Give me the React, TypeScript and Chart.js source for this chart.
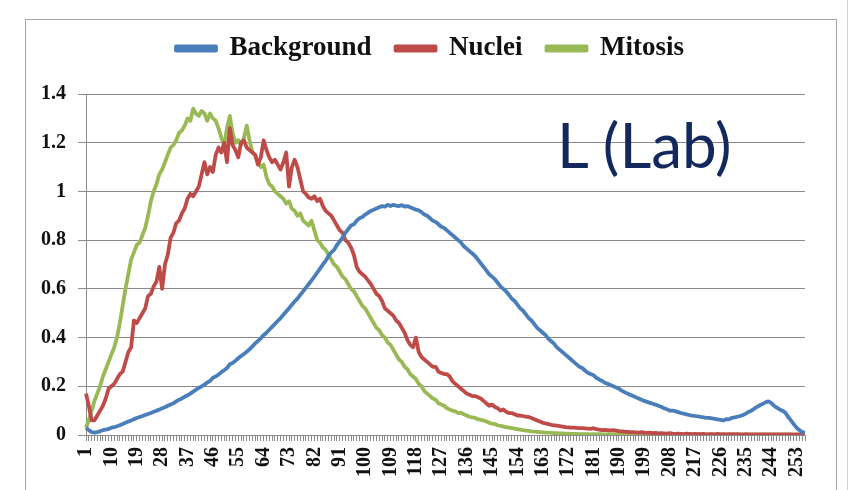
import React, { useEffect, useRef } from 'react';
import { Chart, registerables } from 'chart.js';

Chart.register(...registerables);

// x categories: intensity bins 1..256
const categories: string[] = Array.from({ length: 256 }, (_, i) => String(i + 1));
// labelled ticks (every 9th bin)
const xTickLabels = ['1', '10', '19', '28', '37', '46', '55', '64', '73', '82', '91', '100', '109', '118', '127', '136', '145', '154', '163', '172', '181', '190', '199', '208', '217', '226', '235', '244', '253'];
const yTicks = [0, 0.2, 0.4, 0.6, 0.8, 1, 1.2, 1.4];

const seriesNames = ['Background', 'Nuclei', 'Mitosis'];
const seriesColors = ['#4A7EBB', '#BE4B48', '#98B954'];

const background = [
  0.03, 0.02, 0.012, 0.01, 0.012, 0.015, 0.02, 0.022, 0.025, 0.03, 0.032, 0.036, 0.04, 0.045, 0.05, 0.055,
  0.06, 0.065, 0.07, 0.074, 0.078, 0.082, 0.086, 0.09, 0.095, 0.1, 0.104, 0.11, 0.114, 0.12, 0.125, 0.13,
  0.138, 0.145, 0.15, 0.157, 0.163, 0.17, 0.178, 0.186, 0.193, 0.2, 0.207, 0.215, 0.222, 0.235, 0.24, 0.248,
  0.258, 0.266, 0.275, 0.29, 0.296, 0.305, 0.315, 0.324, 0.333, 0.342, 0.352, 0.364, 0.376, 0.386, 0.397, 0.41,
  0.42, 0.432, 0.444, 0.456, 0.468, 0.48, 0.494, 0.507, 0.52, 0.535, 0.548, 0.56, 0.575, 0.59, 0.605, 0.62,
  0.635, 0.65, 0.667, 0.683, 0.7, 0.715, 0.735, 0.75, 0.76, 0.78, 0.795, 0.81, 0.83, 0.845, 0.86, 0.865,
  0.88, 0.89, 0.895, 0.905, 0.912, 0.92, 0.925, 0.93, 0.935, 0.94, 0.938, 0.945, 0.94, 0.945, 0.942, 0.94,
  0.944, 0.938, 0.94, 0.935, 0.93, 0.925, 0.922, 0.915, 0.905, 0.9, 0.89, 0.88, 0.875, 0.865, 0.855, 0.85,
  0.84, 0.83, 0.82, 0.81, 0.8, 0.79, 0.775, 0.765, 0.755, 0.745, 0.735, 0.72, 0.705, 0.69, 0.675, 0.66,
  0.65, 0.64, 0.625, 0.61, 0.6, 0.59, 0.575, 0.56, 0.55, 0.535, 0.52, 0.51, 0.495, 0.48, 0.47, 0.455,
  0.44, 0.43, 0.42, 0.41, 0.395, 0.385, 0.375, 0.36, 0.35, 0.34, 0.33, 0.32, 0.31, 0.3, 0.29, 0.28,
  0.275, 0.265, 0.255, 0.25, 0.245, 0.235, 0.228, 0.222, 0.215, 0.21, 0.205, 0.2, 0.195, 0.19, 0.182, 0.176,
  0.17, 0.165, 0.16, 0.155, 0.15, 0.145, 0.14, 0.136, 0.132, 0.128, 0.125, 0.12, 0.116, 0.11, 0.106, 0.1,
  0.1, 0.098, 0.094, 0.09, 0.088, 0.085, 0.082, 0.08, 0.078, 0.076, 0.074, 0.072, 0.07, 0.07, 0.068, 0.066,
  0.064, 0.062, 0.06, 0.065, 0.064, 0.07, 0.072, 0.075, 0.078, 0.082, 0.088, 0.095, 0.1, 0.108, 0.115, 0.122,
  0.128, 0.134, 0.138, 0.132, 0.12, 0.112, 0.105, 0.1, 0.092, 0.075, 0.06, 0.045, 0.03, 0.02, 0.012, 0.01,
];

const nuclei = [
  0.17, 0.12, 0.06, 0.06, 0.08, 0.1, 0.12, 0.15, 0.19, 0.2, 0.21, 0.23, 0.25, 0.26, 0.3, 0.34,
  0.36, 0.47, 0.46, 0.48, 0.5, 0.52, 0.57, 0.58, 0.61, 0.63, 0.69, 0.6, 0.7, 0.74, 0.81, 0.83,
  0.87, 0.88, 0.91, 0.93, 0.97, 0.99, 0.98, 1.0, 1.02, 1.07, 1.12, 1.07, 1.1, 1.08, 1.15, 1.18,
  1.16, 1.2, 1.12, 1.26, 1.19, 1.17, 1.14, 1.2, 1.21, 1.18, 1.17, 1.16, 1.15, 1.11, 1.14, 1.21,
  1.17, 1.14, 1.12, 1.13, 1.11, 1.09, 1.12, 1.16, 1.02, 1.1, 1.13, 1.1, 1.05, 1.0, 0.99, 0.975,
  0.97, 0.98, 0.96, 0.97, 0.94, 0.92, 0.91, 0.9, 0.88, 0.86, 0.84, 0.83, 0.8, 0.79, 0.77, 0.74,
  0.69, 0.67, 0.66, 0.65, 0.635, 0.62, 0.6, 0.58, 0.57, 0.55, 0.52, 0.51, 0.5, 0.49, 0.47, 0.46,
  0.44, 0.42, 0.39, 0.37, 0.36, 0.4, 0.34, 0.32, 0.31, 0.3, 0.29, 0.28, 0.28, 0.26, 0.255, 0.25,
  0.25, 0.24, 0.22, 0.21, 0.2, 0.19, 0.18, 0.17, 0.165, 0.16, 0.16, 0.155, 0.15, 0.14, 0.13, 0.12,
  0.125, 0.115, 0.11, 0.1, 0.105, 0.095, 0.09, 0.09, 0.085, 0.08, 0.08, 0.078, 0.075, 0.074, 0.07, 0.065,
  0.06, 0.055, 0.05, 0.048, 0.045, 0.042, 0.04, 0.038, 0.036, 0.034, 0.032, 0.031, 0.03, 0.03, 0.029, 0.028,
  0.028, 0.027, 0.026, 0.025, 0.028, 0.024, 0.022, 0.02, 0.021, 0.02, 0.019, 0.02, 0.018, 0.016, 0.015, 0.014,
  0.013, 0.012, 0.012, 0.011, 0.01, 0.012, 0.01, 0.009, 0.01, 0.008, 0.009, 0.007, 0.008, 0.007, 0.006, 0.008,
  0.006, 0.005, 0.006, 0.005, 0.004, 0.006, 0.005, 0.004, 0.005, 0.004, 0.004, 0.005, 0.003, 0.004, 0.004, 0.003,
  0.005, 0.003, 0.004, 0.003, 0.004, 0.003, 0.003, 0.004, 0.003, 0.002, 0.004, 0.003, 0.002, 0.003, 0.002, 0.003,
  0.002, 0.003, 0.002, 0.002, 0.003, 0.002, 0.002, 0.002, 0.003, 0.002, 0.002, 0.001, 0.002, 0.001, 0.001, 0.001,
];

const mitosis = [
  0.03, 0.06, 0.1, 0.14, 0.17, 0.2, 0.24, 0.27, 0.3, 0.33, 0.36, 0.4, 0.46, 0.53, 0.6, 0.66,
  0.72, 0.75, 0.78, 0.79, 0.82, 0.85, 0.9, 0.96, 1.0, 1.03, 1.07, 1.09, 1.12, 1.15, 1.18, 1.19,
  1.21, 1.24, 1.25, 1.27, 1.3, 1.29, 1.34, 1.32, 1.31, 1.33, 1.32, 1.29, 1.32, 1.3, 1.29, 1.26,
  1.22, 1.19, 1.26, 1.31, 1.24, 1.2, 1.21, 1.19, 1.22, 1.27, 1.21, 1.16, 1.15, 1.12, 1.1, 1.11,
  1.06, 1.03, 1.02, 1.0, 0.99, 0.98, 0.97, 0.95, 0.96, 0.93, 0.92, 0.9, 0.91, 0.88, 0.87, 0.86,
  0.88, 0.84, 0.8, 0.79, 0.77, 0.76, 0.74, 0.72, 0.7, 0.69, 0.67, 0.65, 0.64, 0.62, 0.6, 0.59,
  0.57, 0.55, 0.53, 0.52, 0.5, 0.48, 0.46, 0.44, 0.43, 0.41, 0.4, 0.38, 0.37, 0.35, 0.33, 0.31,
  0.3, 0.28, 0.27, 0.25, 0.24, 0.23, 0.21, 0.2, 0.18, 0.17, 0.16, 0.15, 0.145, 0.13, 0.125, 0.12,
  0.11, 0.105, 0.1, 0.097, 0.09, 0.092, 0.085, 0.08, 0.075, 0.072, 0.07, 0.065, 0.062, 0.06, 0.055, 0.05,
  0.047, 0.045, 0.04, 0.037, 0.035, 0.032, 0.03, 0.028, 0.026, 0.024, 0.022, 0.02, 0.018, 0.017, 0.015, 0.014,
  0.013, 0.012, 0.011, 0.01, 0.01, 0.009, 0.008, 0.008, 0.007, 0.007, 0.006, 0.006, 0.005, 0.005, 0.005, 0.004,
  0.004, 0.004, 0.004, 0.003, 0.004, 0.003, 0.003, 0.003, 0.002, 0.003, 0.003, 0.002, 0.002, 0.003, 0.002, 0.002,
  0.002, 0.002, 0.002, 0.001, 0.002, 0.002, 0.001, 0.002, 0.001, 0.001, 0.002, 0.001, 0.001, 0.001, 0.001, 0.002,
  0.001, 0.001, 0.001, 0.001, 0.001, 0.002, 0.001, 0.001, 0.001, 0.001, 0.001, 0.001, 0.001, 0.001, 0.001, 0.001,
  0.001, 0.001, 0.001, 0.001, 0.001, 0.001, 0.001, 0.001, 0.001, 0.001, 0.001, 0.001, 0.001, 0.001, 0.001, 0.001,
  0.001, 0.001, 0.001, 0.001, 0.001, 0.001, 0.001, 0.001, 0.001, 0.001, 0.001, 0.001, 0.001, 0.001, 0.001, 0.001,
];

const seriesData = [background, nuclei, mitosis];

const legendTweak = {
  id: 'legendTweak',
  beforeLayout(chart: any) {
    const lg = chart.legend;
    if (lg && !lg.__patched) {
      const origFit = lg.fit;
      lg.fit = function () {
        origFit.call(this);
        this.height += 6;
      };
      const origDraw = lg.draw;
      lg.draw = function (...args: any[]) {
        const c = this.ctx;
        c.save();
        c.translate(11, -16);
        origDraw.apply(this, args);
        c.restore();
      };
      lg.__patched = true;
    }
  },
};

export default function App() {
  const ref = useRef<HTMLCanvasElement | null>(null);

  useEffect(() => {
    if (!ref.current) return;
    const gridColor = '#8a8a8a';
    const serif = '"Liberation Serif", "Times New Roman", serif';
    const chart = new Chart(ref.current, {
      type: 'line',
      data: {
        labels: categories,
        datasets: seriesNames.map((name, i) => ({
          label: name,
          data: seriesData[i],
          borderColor: seriesColors[i],
          backgroundColor: seriesColors[i],
          borderWidth: 3.8,
          pointRadius: 0,
          tension: 0,
          borderJoinStyle: 'round' as const,
          fill: false,
        })),
      },
      options: {
        responsive: false,
        animation: false,
        layout: { padding: { top: 7, left: 0, right: 23, bottom: 0 } },
        plugins: {
          legend: {
            position: 'top',
            labels: {
              boxWidth: 40,
              boxHeight: 4,
              padding: 24,
              color: '#111',
              font: { family: serif, size: 27, weight: 'bold' },
            },
          },
          tooltip: { enabled: false },
        },
        scales: {
          x: {
            afterFit: (s: any) => { s.height = 55; },
            grid: { display: true, drawOnChartArea: false, drawTicks: true, tickLength: 6, color: gridColor },
            border: { display: true, color: gridColor },
            ticks: {
              autoSkip: false,
              minRotation: 90,
              maxRotation: 90,
              padding: 6,
              color: '#111',
              font: { family: serif, size: 20, weight: 'bold' },
              callback: (_v: any, idx: number) => (xTickLabels.includes(categories[idx]) ? categories[idx] : ''),
            },
          },
          y: {
            min: 0,
            max: 1.4,
            afterFit: (s: any) => { s.width = 60; },
            afterBuildTicks: (s: any) => { s.ticks = yTicks.map((v) => ({ value: v })); },
            grid: { color: gridColor, tickLength: 8 },
            border: { display: true, color: gridColor },
            ticks: {
              padding: 12,
              color: '#111',
              font: { family: serif, size: 20, weight: 'bold' },
              callback: (v: any) => String(Number(Number(v).toFixed(1))),
            },
          },
        },
      },
      plugins: [legendTweak],
    } as any);
    return () => chart.destroy();
  }, []);

  return (
    <div style={{ position: 'absolute', left: 0, top: 0, width: 850, height: 490, background: '#fff', overflow: 'hidden' }}>
      <div style={{ position: 'absolute', left: 25, top: 19, width: 810, height: 490, border: '1px solid #a6a6a6' }} />
      <div style={{ position: 'absolute', left: 847, top: 0, width: 1, height: 490, background: '#d0d0d0' }} />
      <canvas ref={ref} width={809} height={470} style={{ position: 'absolute', left: 26, top: 20, width: 809, height: 470 }} />
      <div
        style={{
          position: 'absolute',
          left: 557,
          top: 113,
          fontFamily: 'Lato, "Open Sans", sans-serif',
          fontSize: 62,
          lineHeight: 1,
          color: '#13295e',
          whiteSpace: 'nowrap',
        }}
      >
        L (Lab)
      </div>
    </div>
  );
}
